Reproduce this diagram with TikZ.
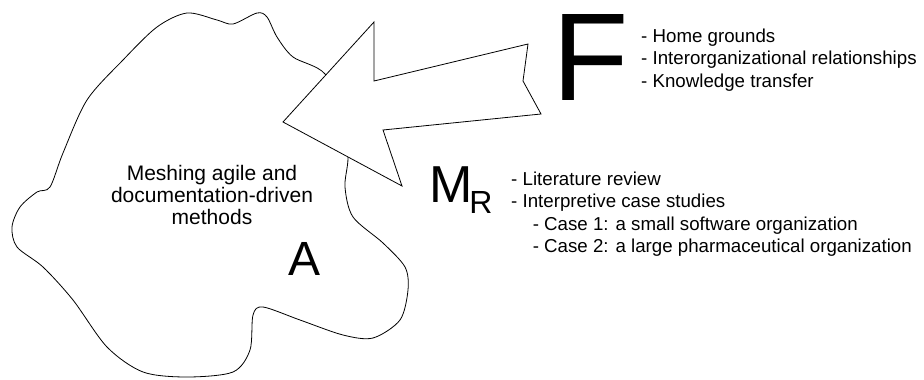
\documentclass[tikz,border=0pt]{standalone}
\usepackage{fontspec}
\setmainfont{Liberation Sans}
\usetikzlibrary{positioning}
\tikzset{
    outline/.style = {
        draw,
        line width=0.8pt,
        },
    big letter/.style = {
        inner sep=0pt,
        font=\fontsize{50}{50}\selectfont,
        },
    topic/.style = {
        align=center,
        inner sep=0pt,
        font=\fontsize{21}{22}\selectfont,
        },
    item list/.style = {
        align=left,
        inner sep=0pt,
        anchor=west,
        font=\fontsize{18.7}{22.4}\selectfont,
        },
}

\begin{document}
\begin{tikzpicture}[x=1pt,y=-1pt]
    \useasboundingbox (0,0) rectangle (924,380);
    % area A
    \draw[outline] plot[smooth cycle] coordinates {
        (233,24) (257,13) (267,17) (277,37) (293,57) (325,74) (345,120)
        (348,158) (345,187) (353,217) (383,243) (405,267) (408,290)
        (400,320) (373,338) (343,335) (300,320) (263,307) (253,315)
        (250,350) (233,372) (187,377) (143,372) (107,347) (73,300)
        (43,267) (17,247) (12,227) (20,207) (37,192) (50,187) (63,153)
        (87,100) (123,60) (157,27) (187,13) (217,20)};
    % the arrow from F into A
    \draw[outline, fill=white] (283,122) -- (374,22) -- (374,81) -- (528,44)
        -- (523,81) -- (541,114) -- (383,130) -- (402,186) -- cycle;

    \node[topic] (topic) at (212,195) {Meshing agile and\\documentation-driven\\methods};
    \node[big letter, font=\fontsize{48}{48}\selectfont] (A) at (304.5,258.5) {A};

    \node[big letter, font=\fontsize{125}{125}\selectfont] (F) at (591,57) {F};
    \node[item list] (Flist) at (641,60) {- Home grounds\\- Interorganizational relationships\\- Knowledge transfer};

    \node[big letter, font=\fontsize{52}{52}\selectfont, anchor=base west] (MR) at (428.9,202.7)
        {M\kern-3pt\raisebox{-10.3pt}{\fontsize{32}{32}\selectfont R}};
    \node[item list] (Mlist) at (511,214) {- Literature review\\- Interpretive case studies\\
        \hspace*{21.6pt}- Case 1: a small software organization\\
        \hspace*{21.6pt}- Case 2: a large pharmaceutical organization};
\end{tikzpicture}
\end{document}
